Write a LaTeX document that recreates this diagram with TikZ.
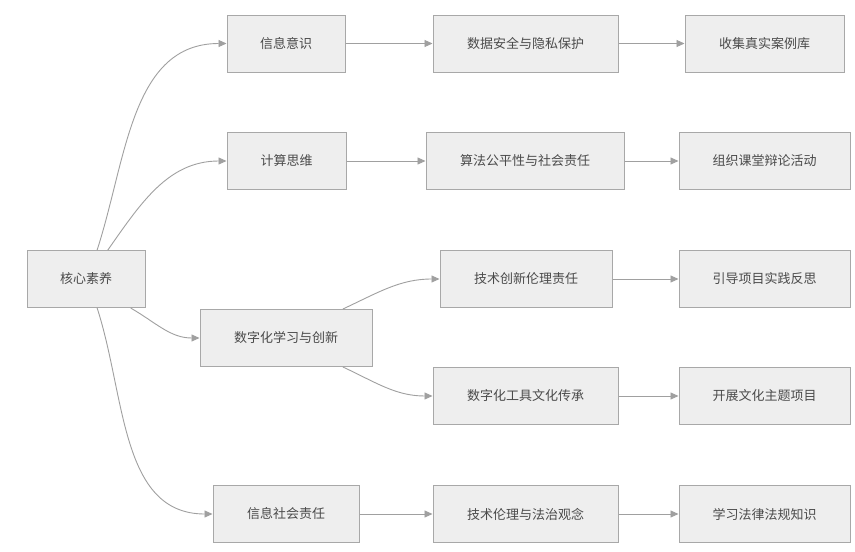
\documentclass[tikz,border=0pt]{standalone}
\usepackage{fontspec}
\newfontfamily\cjk{Noto Sans CJK SC}
\usetikzlibrary{arrows.meta}
\definecolor{boxfill}{HTML}{EEEEEE}
\definecolor{boxline}{HTML}{A8A8A8}
\definecolor{linkline}{HTML}{A0A0A0}
\definecolor{boxtext}{HTML}{4A4A4A}
\begin{document}
\begin{tikzpicture}[x=1pt,y=-1pt,
    box/.style={draw=boxline,fill=boxfill,line width=1pt,minimum height=57pt,inner sep=0pt,
        font=\cjk\fontsize{13pt}{15pt}\selectfont,text=boxtext},
    link/.style={draw=linkline,line width=0.9pt,-{Triangle[length=8pt,width=7pt]}}]
\useasboundingbox[fill=white] (0,0) rectangle (855,552);
% first column
\node[box,minimum width=118pt] (core) at (86,279) {核心素养};
% second column
\node[box,minimum width=118pt] (info) at (286,43.5) {信息意识};
\node[box,minimum width=119pt] (comp) at (286.5,161) {计算思维};
\node[box,minimum width=172pt] (digi) at (286,338) {数字化学习与创新};
\node[box,minimum width=146pt] (soc) at (286,514) {信息社会责任};
% third column
\node[box,minimum width=185pt] (data) at (525.5,43.5) {数据安全与隐私保护};
\node[box,minimum width=198pt] (algo) at (525,161) {算法公平性与社会责任};
\node[box,minimum width=172pt] (tech) at (526,279) {技术创新伦理责任};
\node[box,minimum width=185pt] (tool) at (525.5,396) {数字化工具文化传承};
\node[box,minimum width=185pt] (law) at (525.5,514) {技术伦理与法治观念};
% fourth column
\node[box,minimum width=159pt] (case) at (764.5,43.5) {收集真实案例库};
\node[box,minimum width=171pt] (debate) at (764.5,161) {组织课堂辩论活动};
\node[box,minimum width=171pt] (reflect) at (764.5,279) {引导项目实践反思};
\node[box,minimum width=171pt] (culture) at (764.5,396) {开展文化主题项目};
\node[box,minimum width=171pt] (rules) at (764.5,514) {学习法律法规知识};
% links
\draw[link] (core.69) to[out=72,in=180] (info.west);
\draw[link] (core.53) to[out=55,in=180] (comp.west);
\draw[link] (core.-33) to[out=-30,in=180] (digi.west);
\draw[link] (core.-69) to[out=-72,in=180] (soc.west);
\draw[link] (digi.27) to[out=25,in=180] (tech.west);
\draw[link] (digi.-27) to[out=-25,in=180] (tool.west);
\draw[link] (info) -- (data);
\draw[link] (comp) -- (algo);
\draw[link] (soc) -- (law);
\draw[link] (data) -- (case);
\draw[link] (algo) -- (debate);
\draw[link] (tech) -- (reflect);
\draw[link] (tool) -- (culture);
\draw[link] (law) -- (rules);
\end{tikzpicture}
\end{document}
